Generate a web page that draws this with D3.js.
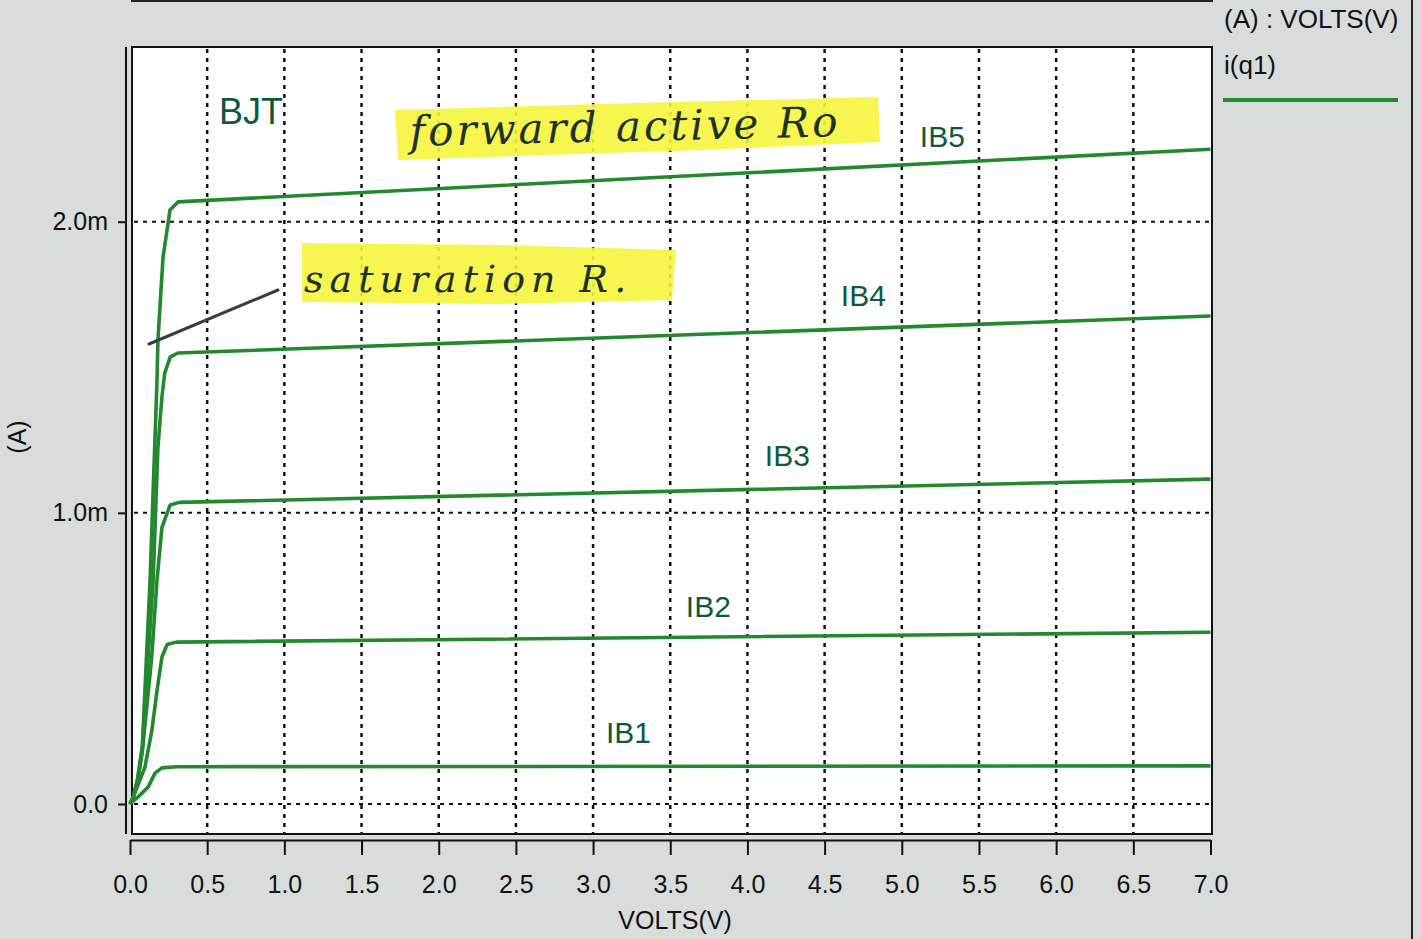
<!DOCTYPE html>
<html>
<head>
<meta charset="utf-8">
<script src="https://cdn.jsdelivr.net/npm/d3@7.9.0/dist/d3.min.js"></script>
<style>
  html, body { margin: 0; padding: 0; background: #d8dddc; }
  svg { display: block; font-family: "Liberation Sans", Arial, Helvetica, sans-serif; }
</style>
</head>
<body>
<svg id="chart" width="1421" height="939"></svg>
<script>
// axis ticks
const xTicks = [0, 0.5, 1, 1.5, 2, 2.5, 3, 3.5, 4, 4.5, 5, 5.5, 6, 6.5, 7];
const yTicks = [0, 1, 2];
const yTickLabels = ['0.0', '1.0m', '2.0m'];

// curves, [volts, mA]
const ib1 = [[0, 0], [0.052, 0.024], [0.117, 0.058], [0.162, 0.106], [0.207, 0.124], [0.3, 0.128], [7, 0.131]];
const ib2 = [[0, 0], [0.032, 0.038], [0.097, 0.127], [0.142, 0.254], [0.175, 0.39], [0.207, 0.505], [0.24, 0.548], [0.3, 0.556], [7, 0.59]];
const ib3 = [[0, 0], [0.02, 0.02], [0.05, 0.08], [0.08, 0.18], [0.14, 0.5], [0.175, 0.77], [0.207, 0.95], [0.26, 1.027], [0.32, 1.036], [7, 1.116]];
const ib4 = [[0, 0], [0.02, 0.02], [0.05, 0.085], [0.08, 0.19], [0.15, 0.77], [0.181, 1.226], [0.207, 1.40], [0.225, 1.48], [0.26, 1.535], [0.31, 1.549], [7, 1.676]];
const ib5 = [[0, 0], [0.02, 0.02], [0.05, 0.09], [0.08, 0.2], [0.13, 0.77], [0.175, 1.456], [0.181, 1.593], [0.214, 1.878], [0.259, 2.04], [0.311, 2.068], [7, 2.249]];

const seriesNames = ['IB1', 'IB2', 'IB3', 'IB4', 'IB5'];
const seriesData = [ib1, ib2, ib3, ib4, ib5];
const labelV = [3.083, 3.601, 4.113, 4.605, 5.117];
const labelI = [0.209, 0.642, 1.161, 1.710, 2.256];

const svg = d3.select('#chart');
const green = '#23882f';
const darkGreen = '#0d5a3a';

const x = d3.scaleLinear().domain([0, 7]).range([130, 1210.5]);
const y = d3.scaleLinear().domain([0, 2]).range([804, 221.7]);

// box edge at the very top
svg.append('rect')
    .attr('x', 132).attr('y', -10).attr('width', 1080).attr('height', 11)
    .attr('fill', 'none').attr('stroke', '#222').attr('stroke-width', 2);

// right edge line
svg.append('line')
    .attr('x1', 1412).attr('x2', 1412).attr('y1', 0).attr('y2', 939)
    .attr('stroke', '#222').attr('stroke-width', 2);

// plot frame
svg.append('rect')
    .attr('x', 132).attr('y', 47).attr('width', 1080).attr('height', 787)
    .attr('fill', '#fff').attr('stroke', '#111').attr('stroke-width', 2);

// grid
svg.append('g')
    .selectAll('line')
    .data(xTicks.filter(d => d > 0 && d < 7))
    .join('line')
    .attr('x1', d => x(d)).attr('x2', d => x(d))
    .attr('y1', 49).attr('y2', 833)
    .attr('stroke', '#111').attr('stroke-width', 2.5)
    .attr('stroke-dasharray', '4,5');

svg.append('g')
    .selectAll('line')
    .data(yTicks)
    .join('line')
    .attr('x1', 134).attr('x2', 1211)
    .attr('y1', d => y(d)).attr('y2', d => y(d))
    .attr('stroke', '#111').attr('stroke-width', 2)
    .attr('stroke-dasharray', '4,5');

// highlighter marks
svg.append('path')
    .attr('d', 'M395,110 L600,104 L878,97 L880,142 L700,150 L398,160 Z')
    .attr('fill', '#f6f43c').attr('opacity', 0.9);
svg.append('path')
    .attr('d', 'M302,243 L500,245 L676,250 L672,300 L500,304 L302,302 Z')
    .attr('fill', '#f6f43c').attr('opacity', 0.9);

svg.append('text')
    .attr('x', 410).attr('y', 146)
    .attr('transform', 'rotate(-1.3 410 146)')
    .attr('font-family', '"DejaVu Serif", serif')
    .attr('font-style', 'italic')
    .attr('font-weight', 300)
    .attr('font-size', 42)
    .attr('letter-spacing', 3)
    .attr('fill', '#1d3328')
    .text('forward active Ro');

svg.append('text')
    .attr('x', 304).attr('y', 292)
    .attr('font-family', '"DejaVu Serif", serif')
    .attr('font-style', 'italic')
    .attr('font-size', 38)
    .attr('letter-spacing', 6)
    .attr('fill', '#1d3328')
    .text('saturation R.');

// curves
const line = d3.line().x(d => x(d[0])).y(d => y(d[1]));
svg.append('g')
    .selectAll('path')
    .data(seriesData)
    .join('path')
    .attr('d', line)
    .attr('fill', 'none')
    .attr('stroke', green)
    .attr('stroke-width', 3.6)
    .attr('stroke-linejoin', 'round');

// pointer stroke
svg.append('line')
    .attr('x1', 149).attr('y1', 344).attr('x2', 278).attr('y2', 290)
    .attr('stroke', '#3a3a4a').attr('stroke-width', 3).attr('stroke-linecap', 'round');

// series labels
svg.append('g')
    .selectAll('text')
    .data(seriesNames)
    .join('text')
    .attr('x', (d, i) => x(labelV[i]))
    .attr('y', (d, i) => y(labelI[i]))
    .attr('font-size', 30)
    .attr('fill', darkGreen)
    .text(d => d);

svg.append('text')
    .attr('x', 219).attr('y', 124)
    .attr('font-size', 36)
    .attr('fill', darkGreen)
    .text('BJT');

// x axis
const xAxis = svg.append('g')
    .attr('transform', 'translate(0,840)')
    .call(d3.axisBottom(x).tickValues(xTicks).tickFormat(d3.format('.1f')).tickSize(15).tickSizeOuter(0).tickPadding(20));
xAxis.select('.domain').attr('stroke', '#111').attr('stroke-width', 2);
xAxis.selectAll('.tick line').attr('stroke', '#111').attr('stroke-width', 2);
xAxis.selectAll('.tick text').attr('font-size', 25).attr('fill', '#111')
    .attr('font-family', '"Liberation Sans", Arial, sans-serif');

// y axis
svg.append('line')
    .attr('x1', 126).attr('x2', 126).attr('y1', 47).attr('y2', 834)
    .attr('stroke', '#111').attr('stroke-width', 2);
const yAxis = svg.append('g')
    .attr('transform', 'translate(126,0)')
    .call(d3.axisLeft(y).tickValues(yTicks).tickFormat((d, i) => yTickLabels[i]).tickSize(8).tickSizeOuter(0).tickPadding(10));
yAxis.select('.domain').remove();
yAxis.selectAll('.tick line').attr('stroke', '#111').attr('stroke-width', 2);
yAxis.selectAll('.tick text').attr('font-size', 25).attr('fill', '#111')
    .attr('font-family', '"Liberation Sans", Arial, sans-serif');

// axis titles
svg.append('text')
    .attr('x', 675).attr('y', 929)
    .attr('text-anchor', 'middle')
    .attr('font-size', 25).attr('fill', '#111')
    .text('VOLTS(V)');

svg.append('text')
    .attr('transform', 'translate(26,437) rotate(-90)')
    .attr('text-anchor', 'middle')
    .attr('font-size', 25).attr('fill', '#111')
    .text('(A)');

// legend
svg.append('text')
    .attr('x', 1224).attr('y', 28)
    .attr('font-size', 26).attr('fill', '#111')
    .text('(A) : VOLTS(V)');
svg.append('text')
    .attr('x', 1224).attr('y', 74)
    .attr('font-size', 26).attr('fill', '#111')
    .text('i(q1)');
svg.append('line')
    .attr('x1', 1223).attr('x2', 1398).attr('y1', 100).attr('y2', 100)
    .attr('stroke', green).attr('stroke-width', 4);
</script>
</body>
</html>
